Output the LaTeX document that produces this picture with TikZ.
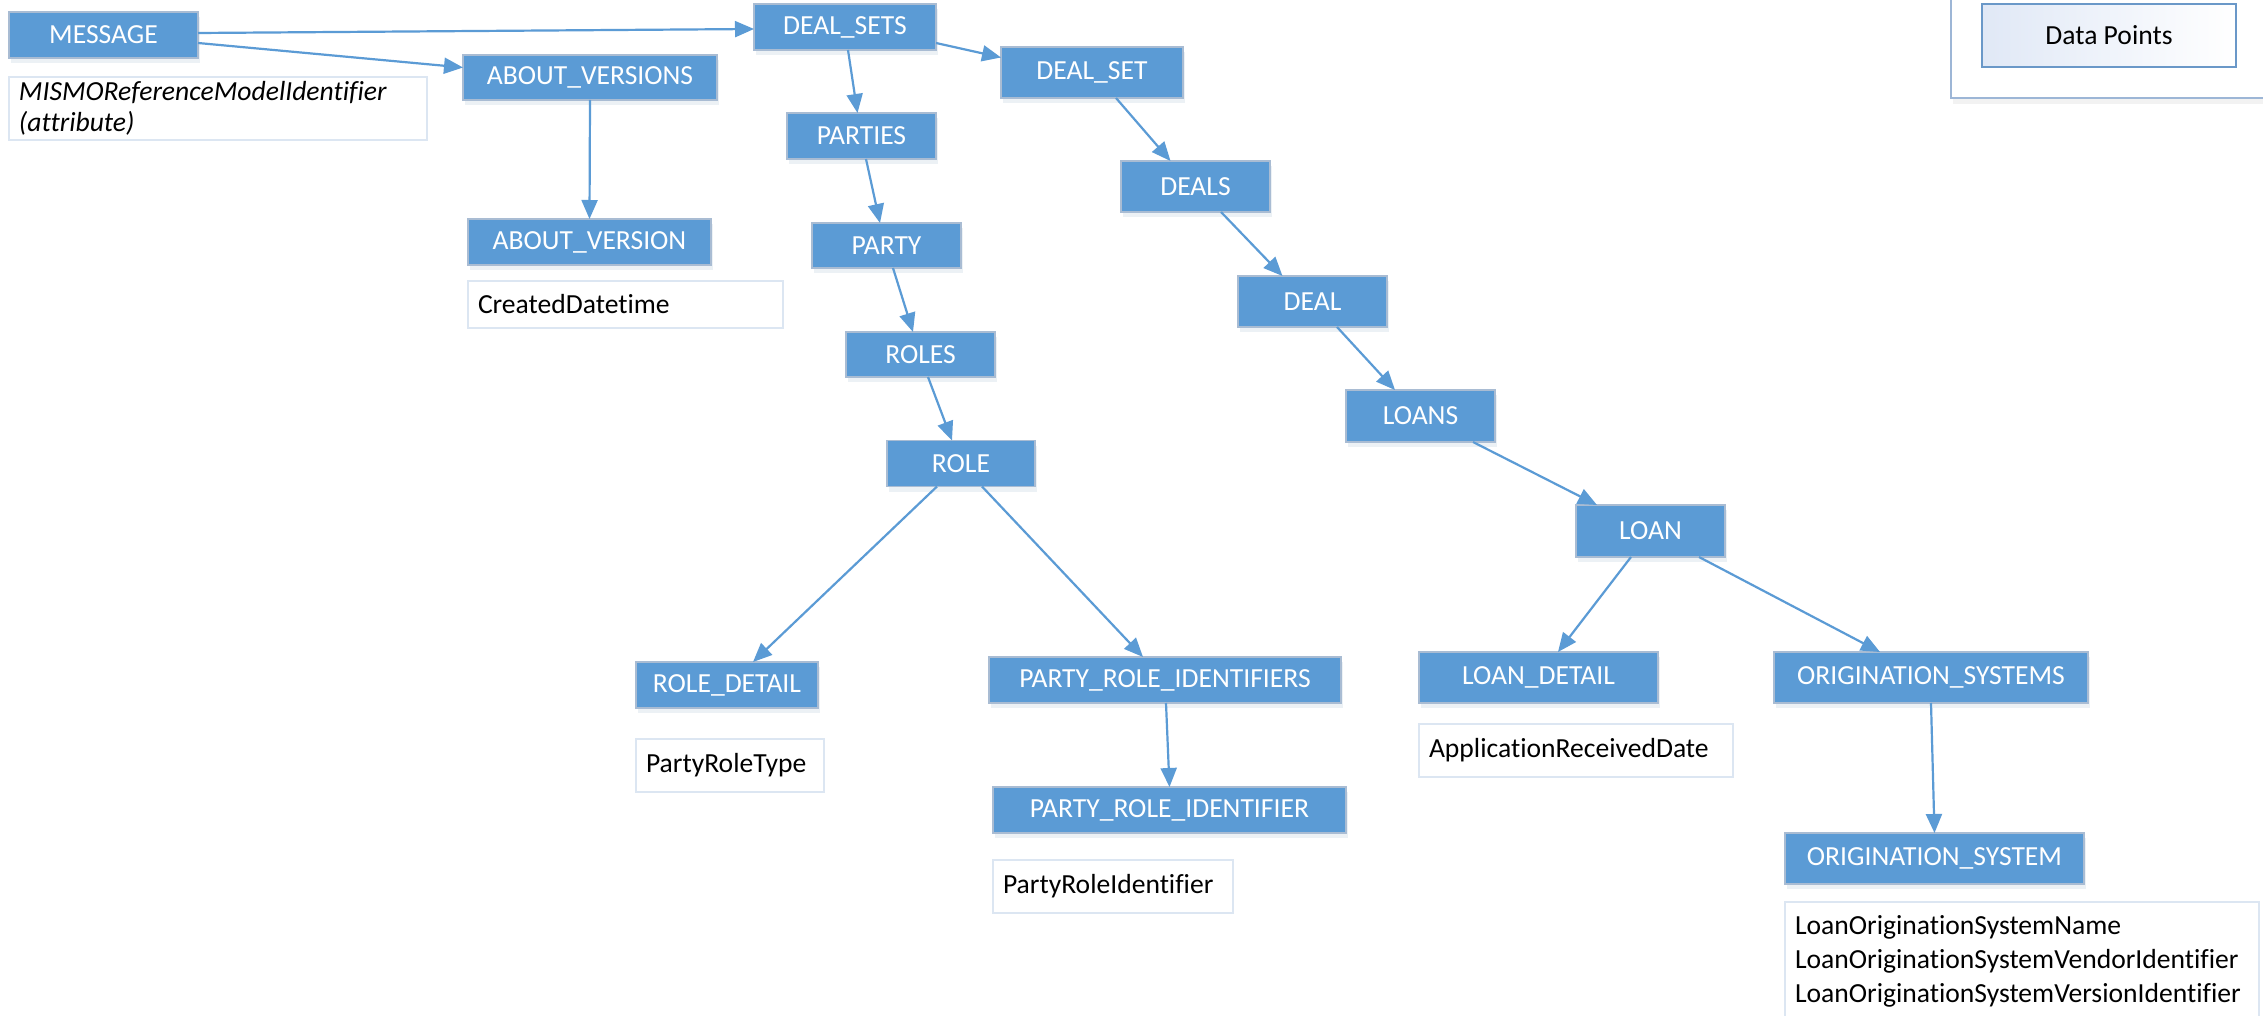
\documentclass[tikz,border=0pt]{standalone}
\usepackage{fontspec}
\setmainfont{Carlito}[Ligatures={NoCommon}]
\usetikzlibrary{arrows.meta,calc,shadows}
\definecolor{boxblue}{HTML}{5B9BD5}
\definecolor{boxedge}{HTML}{A9BCD3}
\definecolor{dataedge}{HTML}{DCE6F2}
\definecolor{legin}{HTML}{6A98C8}
\definecolor{legout}{HTML}{9DB6D6}
\definecolor{leggrad}{HTML}{E0E8F6}
\begin{document}
\begin{tikzpicture}[x=1pt,y=-1pt,
  every node/.style={font=\fontsize{27.6}{34}\selectfont, inner sep=0pt, outer sep=0pt},
  elem/.style={draw=boxedge, line width=1.2pt, fill=boxblue, text=white,
    drop shadow={shadow xshift=2pt, shadow yshift=-5pt, opacity=0.12, fill=boxblue!60!gray}},
  datab/.style={draw=dataedge, line width=1.5pt, fill=white, text=black, align=left, inner xsep=10pt},
  conn/.style={draw=boxblue, line width=2.2pt, -{Triangle[length=19pt,width=16pt]}},
]
\useasboundingbox (0,0) rectangle (2263,1016);
\fill[white] (0,0) rectangle (2263,1016);
\clip (0,0) rectangle (2263,1016);

% legend
\draw[legout, line width=2pt, fill=white,
  drop shadow={shadow xshift=2pt, shadow yshift=-6pt, opacity=0.10, fill=gray}] (1951,-30) rectangle (2300,98);
\node[draw=legin, line width=2pt, left color=leggrad, right color=white,
  minimum width=254pt, minimum height=63pt] (legend) at (2109,35.5) {Data Points};

% element boxes
\node[elem, minimum width=189pt, minimum height=46pt] (msg) at (103.5,35) {MESSAGE};
\node[elem, minimum width=254pt, minimum height=45pt] (av) at (590,77.5) {ABOUT\_VERSIONS};
\node[elem, minimum width=243pt, minimum height=46pt] (avs) at (589.5,242) {ABOUT\_VERSION};
\node[elem, minimum width=182pt, minimum height=46pt] (ds) at (845,27) {DEAL\_SETS};
\node[elem, minimum width=182pt, minimum height=51pt] (dset) at (1092,72.5) {DEAL\_SET};
\node[elem, minimum width=149pt, minimum height=46pt] (parties) at (861.5,136) {PARTIES};
\node[elem, minimum width=149pt, minimum height=45pt] (party) at (886.5,245.5) {PARTY};
\node[elem, minimum width=149pt, minimum height=45pt] (roles) at (920.5,354.5) {ROLES};
\node[elem, minimum width=148pt, minimum height=46pt] (role) at (961,463.5) {ROLE};
\node[elem, minimum width=149pt, minimum height=51pt] (deals) at (1195.5,186.5) {DEALS};
\node[elem, minimum width=149pt, minimum height=51pt] (deal) at (1312.5,301.5) {DEAL};
\node[elem, minimum width=149pt, minimum height=52pt] (loans) at (1420.5,416) {LOANS};
\node[elem, minimum width=149pt, minimum height=52pt] (loan) at (1650.5,531) {LOAN};
\node[elem, minimum width=182pt, minimum height=46pt] (rd) at (727,685) {ROLE\_DETAIL};
\node[elem, minimum width=352pt, minimum height=46pt] (pris) at (1165,680) {PARTY\_ROLE\_IDENTIFIERS};
\node[elem, minimum width=353pt, minimum height=46pt] (pri) at (1169.5,810) {PARTY\_ROLE\_IDENTIFIER};
\node[elem, minimum width=239pt, minimum height=51pt] (ld) at (1538.5,677.5) {LOAN\_DETAIL};
\node[elem, minimum width=314pt, minimum height=51pt] (oss) at (1931,677.5) {ORIGINATION\_SYSTEMS};
\node[elem, minimum width=299pt, minimum height=51pt] (os) at (1934.5,858.5) {ORIGINATION\_SYSTEM};

% data point boxes
\node[datab, text width=398pt, minimum height=63pt, font=\fontsize{27.6}{31}\selectfont\itshape] (mismo) at (218,108.5)
  {MISMOReferenceModelIdentifier\\(attribute)};
\node[datab, text width=295pt, minimum height=47pt] (created) at (625.5,304.5) {CreatedDatetime};
\node[datab, text width=168pt, minimum height=53pt] (prtype) at (730,765.5) {PartyRoleType};
\node[datab, text width=220pt, minimum height=53pt] (prid) at (1113,886.5) {PartyRoleIdentifier};
\node[datab, text width=294pt, minimum height=53pt] (ard) at (1576,750.5) {ApplicationReceivedDate};
\node[datab, text width=454pt, minimum height=118pt, font=\fontsize{27.6}{34}\selectfont] (los) at (2022,961)
  {LoanOriginationSystemName\\LoanOriginationSystemVendorIdentifier\\LoanOriginationSystemVersionIdentifier};

% connectors
\draw[conn] ($(msg.east)+(0,-2)$) -- ($(ds.west)+(0,2)$);
\draw[conn] ($(msg.east)+(0,8)$) -- ($(av.west)+(0,-10)$);
\draw[conn] (av.south) -- (avs.north);
\draw[conn] ($(ds.south)+(3,0)$) -- ($(parties.north)+(-4,0)$);
\draw[conn] ($(ds.east)+(0,16)$) -- ($(dset.west)+(0,-15)$);
\draw[conn] ($(dset.south)+(24,0)$) -- ($(deals.north)+(-25,0)$);
\draw[conn] ($(parties.south)+(4.5,0)$) -- ($(party.north)+(-6.5,0)$);
\draw[conn] ($(party.south)+(6.5,0)$) -- ($(roles.north)+(-7.5,0)$);
\draw[conn] ($(roles.south)+(7.5,0)$) -- ($(role.north)+(-9,0)$);
\draw[conn] ($(deals.south)+(25.5,0)$) -- ($(deal.north)+(-30,0)$);
\draw[conn] ($(deal.south)+(24.5,0)$) -- ($(loans.north)+(-25.5,0)$);
\draw[conn] ($(loans.south)+(52.5,0)$) -- ($(loan.north)+(-53.5,0)$);
\draw[conn] ($(role.south)+(-24,0)$) -- ($(rd.north)+(26,0)$);
\draw[conn] ($(role.south)+(21,0)$) -- ($(pris.north)+(-22,0)$);
\draw[conn] ($(pris.south)+(1,0)$) -- (pri.north);
\draw[conn] ($(loan.south)+(-19.5,0)$) -- ($(ld.north)+(19.5,0)$);
\draw[conn] ($(loan.south)+(48.5,0)$) -- ($(oss.north)+(-51,0)$);
\draw[conn] (oss.south) -- (os.north);
\end{tikzpicture}
\end{document}
